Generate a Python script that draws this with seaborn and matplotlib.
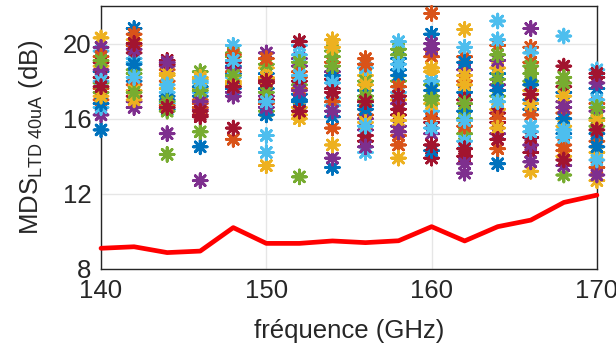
import numpy as np
import pandas as pd
import matplotlib
matplotlib.use("Agg")
import matplotlib.pyplot as plt
import seaborn as sns

# -------------------------------
# Datos
# -------------------------------
freq = [140, 142, 144, 146, 148, 150, 152, 154, 156, 158, 160, 162, 164, 166, 168, 170]

# MDS por frecuencia (una lista por frecuencia, un valor por dispositivo)
mds_140 = [15.4, 17.6, 20.3, 16.2, 17.9, 19.6, 19.0, 18.5, 17.0, 18.8, 19.8, 17.4, 16.6, 18.2, 16.8, 19.3, 17.2, 18.6, 19.1, 18.0, 17.7]
mds_142 = [20.8, 19.9, 20.2, 16.6, 18.4, 19.2, 19.5, 18.0, 17.8, 17.5, 16.9, 18.6, 19.0, 17.2, 18.9, 20.5, 17.0, 19.7, 17.4, 18.2, 20.0]
mds_144 = [17.2, 18.0, 17.6, 15.2, 14.1, 16.8, 19.1, 16.5, 18.6, 18.3, 18.8, 16.4, 17.4, 18.9, 17.0, 16.7, 18.4, 19.0, 16.9, 17.8, 16.6]
mds_146 = [14.5, 17.0, 18.1, 12.7, 15.3, 17.9, 16.1, 17.2, 16.8, 17.6, 16.5, 18.5, 17.4, 16.2, 17.7, 16.6, 18.2, 16.9, 17.5, 18.0, 16.4]
mds_148 = [18.4, 14.9, 17.8, 17.2, 19.5, 19.9, 15.5, 18.8, 18.5, 17.9, 18.7, 19.3, 18.2, 19.0, 17.6, 19.4, 18.0, 17.4, 18.3, 19.1, 17.7]
mds_150 = [17.6, 18.1, 13.5, 19.5, 16.4, 15.1, 17.9, 18.4, 16.8, 18.7, 17.2, 18.9, 14.2, 17.0, 16.2, 19.2, 18.2, 16.6, 17.4, 16.9, 18.0]
mds_152 = [17.0, 18.2, 16.2, 18.8, 12.9, 19.9, 20.1, 17.3, 17.6, 16.6, 19.2, 17.8, 19.4, 18.0, 16.9, 18.5, 16.0, 17.5, 19.0, 18.3, 16.4]
mds_154 = [13.4, 15.5, 20.2, 13.9, 19.6, 16.7, 18.1, 16.1, 19.0, 14.6, 18.5, 19.3, 17.1, 17.6, 18.3, 16.9, 19.8, 16.4, 18.8, 17.9, 17.4]
mds_156 = [17.5, 19.2, 18.3, 15.4, 18.0, 14.2, 14.8, 16.7, 16.2, 17.8, 16.0, 17.2, 18.7, 15.1, 16.5, 18.9, 15.8, 14.5, 17.0, 15.6, 16.9]
mds_158 = [18.6, 14.6, 13.9, 15.6, 19.7, 20.1, 16.2, 19.2, 15.1, 17.0, 16.8, 18.0, 17.4, 16.5, 18.3, 17.7, 15.9, 15.3, 19.4, 18.9, 17.2]
mds_160 = [20.5, 21.6, 18.5, 20.0, 17.8, 16.4, 13.9, 14.3, 19.3, 16.8, 15.2, 17.2, 18.0, 15.8, 17.5, 16.0, 18.7, 19.7, 17.0, 15.5, 14.6]
mds_162 = [17.4, 19.3, 20.75, 13.1, 15.2, 19.8, 14.0, 16.4, 18.0, 17.8, 18.6, 16.0, 14.8, 17.0, 19.0, 15.6, 18.3, 13.6, 16.8, 15.9, 14.4]
mds_164 = [13.6, 14.4, 16.5, 17.8, 17.2, 21.2, 15.8, 18.4, 19.9, 18.7, 15.2, 18.1, 20.2, 16.3, 17.5, 16.0, 15.5, 19.1, 19.4, 16.9, 14.9]
mds_166 = [17.0, 19.8, 13.2, 20.8, 18.4, 19.5, 14.2, 16.5, 16.2, 17.5, 14.6, 18.0, 15.6, 15.0, 17.8, 19.0, 16.8, 13.7, 18.8, 15.3, 17.3]
mds_168 = [15.2, 14.6, 14.0, 16.9, 13.0, 20.4, 18.8, 17.4, 16.3, 15.6, 13.5, 18.2, 15.0, 17.7, 16.0, 14.3, 17.2, 16.6, 17.9, 15.4, 13.8]
mds_170 = [17.6, 14.8, 12.7, 16.4, 16.0, 18.6, 18.2, 15.2, 16.8, 14.2, 17.9, 15.6, 17.0, 18.4, 14.5, 13.4, 15.9, 13.0, 16.6, 13.8, 15.4]

# Curva roja (limite)
limite = [9.1, 9.18, 8.87, 8.95, 10.2, 9.36, 9.36, 9.49, 9.4, 9.5, 10.25, 9.49, 10.25, 10.6, 11.54, 11.93]

# -------------------------------
# Tabla larga
# -------------------------------
columnas = [mds_140, mds_142, mds_144, mds_146, mds_148, mds_150, mds_152, mds_154,
            mds_156, mds_158, mds_160, mds_162, mds_164, mds_166, mds_168, mds_170]
filas = []
for f, vals in zip(freq, columnas):
    for dev, v in enumerate(vals):
        filas.append({'freq': f, 'mds': v, 'dev': dev})
df = pd.DataFrame(filas)
df_lim = pd.DataFrame({'freq': freq, 'limite': limite})

matlab = ['#0072BD', '#D95319', '#EDB120', '#7E2F8E', '#77AC30', '#4DBEEE', '#A2142F']
n_dev = df['dev'].nunique()
paleta = [matlab[i % 7] for i in range(n_dev)]

# -------------------------------
# Grafico
# -------------------------------
sns.set_style("white")
plt.rcParams['font.family'] = ['Liberation Sans', 'DejaVu Sans']
plt.rcParams['mathtext.fontset'] = 'custom'
plt.rcParams['mathtext.rm'] = 'Liberation Sans'
plt.rcParams['mathtext.it'] = 'Liberation Sans'

fig = plt.figure(figsize=(6.16, 3.52), dpi=100)
ax = fig.add_axes([0.164, 0.236, 0.805, 0.747])

sns.scatterplot(data=df, x='freq', y='mds', hue='dev', palette=paleta, legend=False,
                marker=(8, 2, 0), s=100, linewidth=2.0, ax=ax, clip_on=False, zorder=3)
sns.lineplot(data=df_lim, x='freq', y='limite', color='#FF0000', linewidth=3.4, ax=ax,
             zorder=4, clip_on=False)

ax.set_xlim(140, 170)
ax.set_ylim(8, 22)
ax.set_xticks([140, 150, 160, 170])
ax.set_yticks([8, 12, 16, 20])
ax.grid(True, color='#E6E6E6', linewidth=1.0, zorder=0)
ax.set_axisbelow(True)
ax.tick_params(direction='in', length=5, width=1, labelsize=18.5, colors='#262626', pad=7)
for s in ax.spines.values():
    s.set_color('#262626')
    s.set_linewidth(1.0)

ax.set_xlabel('fréquence (GHz)', fontsize=18.5, color='#262626', labelpad=12)
ax.set_ylabel(r'MDS$_{\mathrm{LTD\ 40uA}}$ (dB)', fontsize=18.5, color='#262626', labelpad=13)

fig.savefig('out.png', dpi=100)
